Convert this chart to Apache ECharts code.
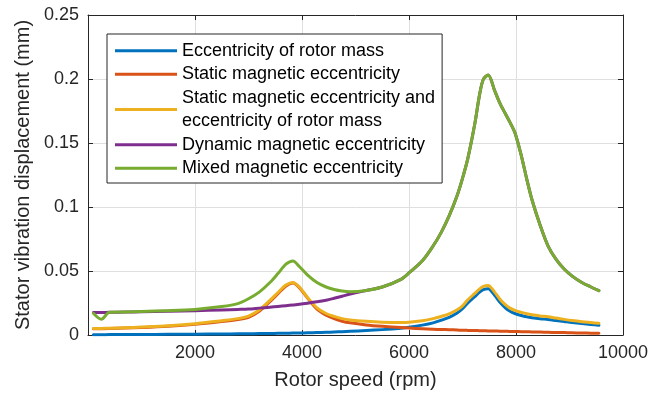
<!DOCTYPE html>
<html>
<head>
<meta charset="utf-8">
<title>Stator vibration displacement</title>
<script src="https://cdn.jsdelivr.net/npm/echarts@6/dist/echarts.min.js"></script>
<style>
  html, body { margin: 0; padding: 0; background: #fff; }
  #chart { width: 662px; height: 399px; }
</style>
</head>
<body>
<div id="chart"></div>
<script>
// rotor speed (rpm), shared by every curve
var rpm = [100, 250, 400, 700, 1000, 1500, 2000, 2500, 2800, 3000,
  3200, 3400, 3550, 3700, 3830, 3950, 4100, 4280, 4450, 4600,
  4750, 4900, 5200, 5500, 5850, 6000, 6250, 6450, 6600, 6750,
  6900, 7000, 7100, 7230, 7320, 7390, 7480, 7600, 7700, 7800,
  7880, 7980, 8100, 8200, 8300, 8450, 8600, 8750, 8900, 9050,
  9230, 9400, 9550];

// displacement (mm)
var rotorMass = [0.0002, 0.0002, 0.0003, 0.0003, 0.0004, 0.0005, 0.0006, 0.0008, 0.0009, 0.001,
  0.0011, 0.0012, 0.0013, 0.0014, 0.0015, 0.0016, 0.0017, 0.0019, 0.0021, 0.0023,
  0.0026, 0.0029, 0.0035, 0.0042, 0.0053, 0.006, 0.0077, 0.0095, 0.0115, 0.0138,
  0.0172, 0.0205, 0.025, 0.030, 0.0335, 0.0355, 0.0362, 0.031, 0.0255, 0.0212,
  0.0188, 0.0168, 0.0152, 0.0142, 0.0135, 0.0127, 0.0121, 0.0113, 0.0105, 0.0097,
  0.0089, 0.0082, 0.0076];
var staticMag = [0.0049, 0.0049, 0.005, 0.0054, 0.0058, 0.0068, 0.0083, 0.0105, 0.0121, 0.0138,
  0.0185, 0.026, 0.0322, 0.0383, 0.0406, 0.037, 0.029, 0.0202, 0.0155, 0.0128,
  0.0108, 0.0095, 0.0079, 0.0068, 0.0058, 0.0054, 0.0049, 0.0045, 0.0043, 0.0041,
  0.0039, 0.0037, 0.0036, 0.0035, 0.0034, 0.0033, 0.0032, 0.0031, 0.003, 0.0029,
  0.0028, 0.0027, 0.0026, 0.0025, 0.0024, 0.0023, 0.0021, 0.002, 0.0019, 0.0017,
  0.0016, 0.0014, 0.0013];
var staticAndMass = [0.0050, 0.0051, 0.0053, 0.0057, 0.0062, 0.0072, 0.0088, 0.0112, 0.0128, 0.0147,
  0.0195, 0.027, 0.0332, 0.039, 0.041, 0.0375, 0.0295, 0.0212, 0.0168, 0.0145,
  0.0128, 0.0118, 0.0107, 0.0100, 0.0098, 0.0100, 0.0112, 0.0128, 0.0145, 0.0165,
  0.0197, 0.0228, 0.0275, 0.0325, 0.036, 0.038, 0.0387, 0.0335, 0.028, 0.0237,
  0.0212, 0.0192, 0.0177, 0.0166, 0.0158, 0.0149, 0.0142, 0.0132, 0.0122, 0.0113,
  0.0104, 0.0097, 0.0091];
var dynamicMag = [0.0175, 0.0176, 0.0177, 0.0179, 0.0181, 0.0185, 0.019, 0.0196, 0.020, 0.0203,
  0.021, 0.0217, 0.0223, 0.0229, 0.0235, 0.024, 0.0248, 0.0259, 0.0272, 0.0287,
  0.0303, 0.032, 0.0348, 0.0375, 0.0435, 0.0485, 0.058, 0.0695, 0.080, 0.093,
  0.109, 0.1224, 0.138, 0.165, 0.188, 0.1998, 0.2031, 0.191, 0.181, 0.173,
  0.1667, 0.158, 0.140, 0.122, 0.1055, 0.086, 0.0695, 0.059, 0.0515, 0.046,
  0.041, 0.0375, 0.0346];
var mixedMag = [0.017, 0.0123, 0.0177, 0.018, 0.0184, 0.019, 0.020, 0.0222, 0.0245, 0.0283,
  0.0335, 0.041, 0.048, 0.0553, 0.0578, 0.0535, 0.047, 0.041, 0.0375, 0.0355,
  0.0343, 0.0338, 0.0348, 0.0375, 0.0435, 0.0485, 0.058, 0.0695, 0.080, 0.093,
  0.109, 0.1224, 0.138, 0.165, 0.188, 0.1998, 0.2031, 0.191, 0.181, 0.173,
  0.1667, 0.158, 0.140, 0.122, 0.1055, 0.086, 0.0695, 0.059, 0.0515, 0.046,
  0.041, 0.0375, 0.0346];

var seriesNames = [
  'Eccentricity of rotor mass',
  'Static magnetic eccentricity',
  'Static magnetic eccentricity and\neccentricity of rotor mass',
  'Dynamic magnetic eccentricity',
  'Mixed magnetic eccentricity'
];
var seriesValues = [rotorMass, staticMag, staticAndMass, dynamicMag, mixedMag];
var colors = ['#0072BD', '#D95319', '#EDB120', '#7E2F8E', '#77AC30'];

var font = 'Liberation Sans, Arial, Helvetica, sans-serif';
var axisColor = '#262626';

function pairs(values) {
  return rpm.map(function (x, i) { return [x, values[i]]; });
}

var chart = echarts.init(document.getElementById('chart'), null, { renderer: 'canvas' });

var option = {
  animation: false,
  color: colors,
  textStyle: { fontFamily: font },
  grid: { left: 88, right: 39, top: 15, bottom: 64 },
  legend: {
    orient: 'vertical',
    left: 107,
    top: 34,
    padding: [5, 7, 3, 8],
    itemGap: 0,
    itemWidth: 62,
    itemHeight: 3,
    icon: 'rect',
    backgroundColor: '#fff',
    borderColor: '#262626',
    borderWidth: 1,
    borderRadius: 0,
    textStyle: { fontFamily: font, fontSize: 18, color: '#000', lineHeight: 23.5 },
    data: seriesNames
  },
  xAxis: [{
    type: 'value',
    min: 0,
    max: 10000,
    interval: 2000,
    name: 'Rotor speed (rpm)',
    nameLocation: 'middle',
    nameGap: 35,
    nameTextStyle: { fontSize: 20, color: axisColor, fontFamily: font },
    axisLine: { show: true, lineStyle: { color: axisColor, width: 1 } },
    axisTick: { show: true, inside: true, length: 5, lineStyle: { color: axisColor } },
    axisLabel: {
      fontSize: 18, color: axisColor, margin: 9, showMinLabel: false, fontFamily: font,
      formatter: function (v) { return String(v); }
    },
    splitLine: { show: true, lineStyle: { color: '#dfdfdf', width: 1 } }
  }, {
    type: 'value',
    position: 'top',
    min: 0,
    max: 10000,
    interval: 2000,
    axisLine: { show: true, onZero: false, lineStyle: { color: axisColor, width: 1 } },
    axisTick: { show: true, inside: true, length: 5, lineStyle: { color: axisColor } },
    axisLabel: { show: false },
    splitLine: { show: false }
  }],
  yAxis: [{
    type: 'value',
    min: 0,
    max: 0.25,
    interval: 0.05,
    name: 'Stator vibration displacement (mm)',
    nameLocation: 'middle',
    nameGap: 55,
    nameTextStyle: { fontSize: 20, color: axisColor, fontFamily: font },
    axisLine: { show: true, lineStyle: { color: axisColor, width: 1 } },
    axisTick: { show: true, inside: true, length: 5, lineStyle: { color: axisColor } },
    axisLabel: { fontSize: 18, color: axisColor, margin: 9, fontFamily: font },
    splitLine: { show: true, lineStyle: { color: '#dfdfdf', width: 1 } }
  }, {
    type: 'value',
    position: 'right',
    min: 0,
    max: 0.25,
    interval: 0.05,
    axisLine: { show: true, onZero: false, lineStyle: { color: axisColor, width: 1 } },
    axisTick: { show: true, inside: true, length: 5, lineStyle: { color: axisColor } },
    axisLabel: { show: false },
    splitLine: { show: false }
  }],
  series: seriesNames.map(function (name, i) {
    return {
      name: name,
      type: 'line',
      xAxisIndex: 0,
      yAxisIndex: 0,
      data: pairs(seriesValues[i]),
      showSymbol: false,
      symbol: 'none',
      smooth: 0.3,
      lineStyle: { width: 3, color: colors[i], cap: 'round', join: 'round' },
      itemStyle: { color: colors[i] },
      z: 2 + i
    };
  })
};

chart.setOption(option);
</script>
</body>
</html>
